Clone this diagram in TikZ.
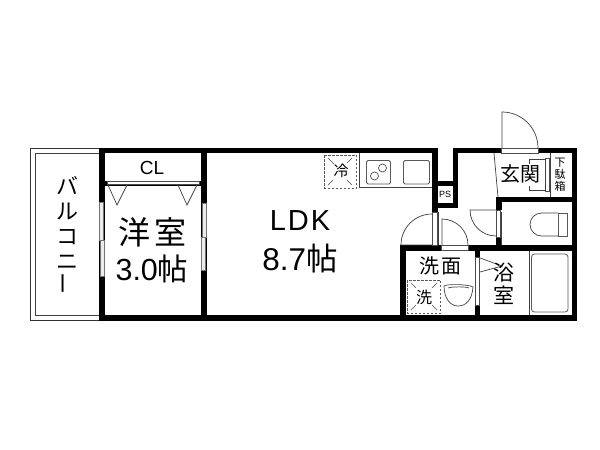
\documentclass[tikz,border=0pt]{standalone}
\usepackage{fontspec}
\setmainfont{Liberation Sans}
\newfontfamily\cjk{Noto Sans CJK JP}
\tikzset{
  wall/.style={fill=black,draw=none},
  thin line/.style={draw=black!75,line width=0.7pt},
  frame line/.style={draw=black!70,line width=0.7pt,fill=white},
  grey frame/.style={draw=black!55,line width=0.7pt,fill=black!8},
  dash box/.style={draw=black!65,line width=1pt,dash pattern=on 2.5pt off 1.5pt},
  fixture/.style={draw=black!65,line width=0.8pt,rounded corners=1.5pt},
  label/.style={inner sep=0pt,text=black}
}
\begin{document}
\begin{tikzpicture}[x=1pt,y=-1pt]
\useasboundingbox (0,0) rectangle (600,450);
\fill[white] (0,0) rectangle (600,450);
% balcony
\draw[thin line,draw=black!80] (99,148) -- (30.5,148) -- (30.5,320.5) -- (99,320.5);
\draw[thin line] (99,153) -- (35.5,153) -- (35.5,315) -- (99,315);
% main walls
\fill[wall] (99,147.5) rectangle (438,153);
\fill[wall] (99,315) rectangle (577,321);
\fill[wall] (99,147.5) rectangle (105,321);
\fill[wall] (201,147.5) rectangle (206.5,321);
\fill[wall] (105,181) rectangle (201,186);
\fill[wall] (432,147.5) rectangle (437.5,212);
\fill[wall] (453,148) rectangle (458,208);
\fill[wall] (437,181) rectangle (458,186);
\fill[wall] (437,203) rectangle (458,208);
\fill[wall] (453,148) rectangle (577,153);
\fill[wall] (571.5,148) rectangle (577,321);
\fill[wall] (496,197) rectangle (577,202);
\fill[wall] (496,197) rectangle (501.5,210);
\fill[wall] (496,237) rectangle (501.5,251);
\fill[wall] (400,245) rectangle (577,251);
\fill[wall] (400,245) rectangle (406,321);
\fill[wall] (475,245) rectangle (480,257);
\fill[wall] (475,305) rectangle (480,321);
% CL doors
\draw[frame line] (107,181.5) rectangle (199,184.5);
\draw[thin line] (108,185) -- (117,205) -- (127,185);
\draw[thin line] (178,185) -- (187,205) -- (197,185);
% windows in room
\draw[grey frame] (99.5,202) rectangle (103.5,240);
\draw[grey frame] (100,240) rectangle (104.5,276);
\draw[grey frame] (202,203) rectangle (206,237);
\draw[grey frame] (201.5,237) rectangle (205.5,270);
% fridge
\draw[dash box] (324.5,155) rectangle (356.5,188);
\foreach \a/\b/\c/\d in {328/158/334/164,352/158/347/163,328/185/333/180,352/185/347/180}
  \draw[black!70,line width=0.6pt] (\a,\b) -- (\c,\d);
\node[label,font=\cjk\fontsize{15}{15}\selectfont] (fridge) at (341,171) {冷};
% kitchen
\draw[thin line] (359,153) -- (359,187.5) -- (432,187.5);
\draw[fixture] (366.5,160.5) rectangle (390.5,184);
\draw[black!70,line width=0.7pt] (382.5,168) circle (4pt);
\draw[black!70,line width=0.7pt] (374.5,176) circle (4pt);
\draw[fixture] (403.5,160.5) rectangle (429.5,184);
% PS
\fill[white] (437.5,186) rectangle (453,203);
\node[label,font=\fontsize{9}{9}\selectfont] (ps) at (445,194.5) {PS};
% entrance door
\fill[white] (501,148) rectangle (538,153);
\draw[frame line] (501.5,148.5) rectangle (538,153);
\draw[thin line] (502,148) -- (502,112) arc[start angle=-90,end angle=0,radius=36];
% entrance step
\draw[thin line] (494,153) -- (498,197);
% shoe box
\draw[thin line] (550,153) -- (550,197);
\draw[frame line] (545,158) rectangle (549,191);
\node[label,font=\cjk\fontsize{11}{12}\selectfont,align=center] (shoe) at (560,175) {下\\駄\\箱};
% entrance text
\draw[thin line] (529,159) -- (545,159) -- (545,190) -- (529,190);
\draw[thin line] (529,159) -- (529,164);
\draw[thin line] (529,186) -- (529,190);
\node[label,font=\cjk\fontsize{20}{20}\selectfont] (genkan) at (520,174) {玄関};
% toilet door
\draw[frame line] (496.5,210) rectangle (500.5,237);
\draw[thin line] (496,210) -- (470,210) arc[start angle=180,end angle=90,radius=26];
% LDK door
\draw[frame line] (432.5,212) rectangle (437,245);
\draw[thin line] (432,214) arc[start angle=-90,end angle=-180,radius=31] -- (432,245);
% wash door
\draw[frame line] (441,245.5) rectangle (468,250);
\draw[thin line] (442,245) -- (442,219) arc[start angle=-90,end angle=0,radius=26];
% hall edge
\draw[thin line] (438,212) -- (438,245);
% toilet
\draw[fixture,rounded corners=0pt] (558,213) rectangle (567.5,236);
\draw[thin line] (558,213) -- (541.5,213) arc[start angle=-90,end angle=-270,radius=11.5] -- (558,236);
\draw[thin line] (501.5,212) -- (501.5,245);
% wash room
\draw[dash box] (407.5,280) rectangle (440.5,313);
\foreach \a/\b/\c/\d in {411/283/416/288,437/283/432/288,411/310/416/305,437/310/432/305}
  \draw[black!70,line width=0.6pt] (\a,\b) -- (\c,\d);
\node[label,font=\cjk\fontsize{16}{16}\selectfont] (washer) at (424,297) {洗};
\draw[thin line] (444,286) .. controls (446,284) and (468,284) .. (473,287) .. controls (472,300) and (466,306) .. (458,306) .. controls (450,306) and (444,298) .. (444,286);
\draw[thin line] (448,288) .. controls (452,286.5) and (466,286.5) .. (469,288);
\node[label,font=\cjk\fontsize{20}{20}\selectfont] (senmen) at (440,266) {洗\hspace{2pt}面};
% bath door
\draw[frame line] (475.5,257) rectangle (479.5,305);
\draw[thin line] (480,258) -- (502,266) -- (480,272);
% bath
\draw[thin line] (529,251) -- (529,315);
\draw[fixture,rounded corners=3pt] (531.5,254) rectangle (568,312);
\node[label,font=\cjk\fontsize{21}{23}\selectfont,align=center] (bath) at (504,284) {浴\\室};
% labels
\node[label,font=\fontsize{19}{19}\selectfont] (cl) at (152,167.5) {CL};
\node[label,font=\cjk\fontsize{32}{32}\selectfont] (yoshitsu) at (152,232) {洋\hspace{4pt}室};
\node[label,font=\fontsize{30.5}{30.5}\selectfont] (size1) at (152,269) {3.0{\cjk 帖}};
\node[label,font=\fontsize{29}{29}\selectfont] (ldk) at (300,221) {L\hspace{2pt}D\hspace{2pt}K};
\node[label,font=\fontsize{31.5}{31.5}\selectfont] (size2) at (300,259) {8.7{\cjk 帖}};
\node[label,font=\cjk\fontsize{22}{25}\selectfont,align=center] (balcony) at (67,235) {バ\\ル\\コ\\ニ\\{\rotatebox{90}{ー}}};
\end{tikzpicture}
\end{document}
